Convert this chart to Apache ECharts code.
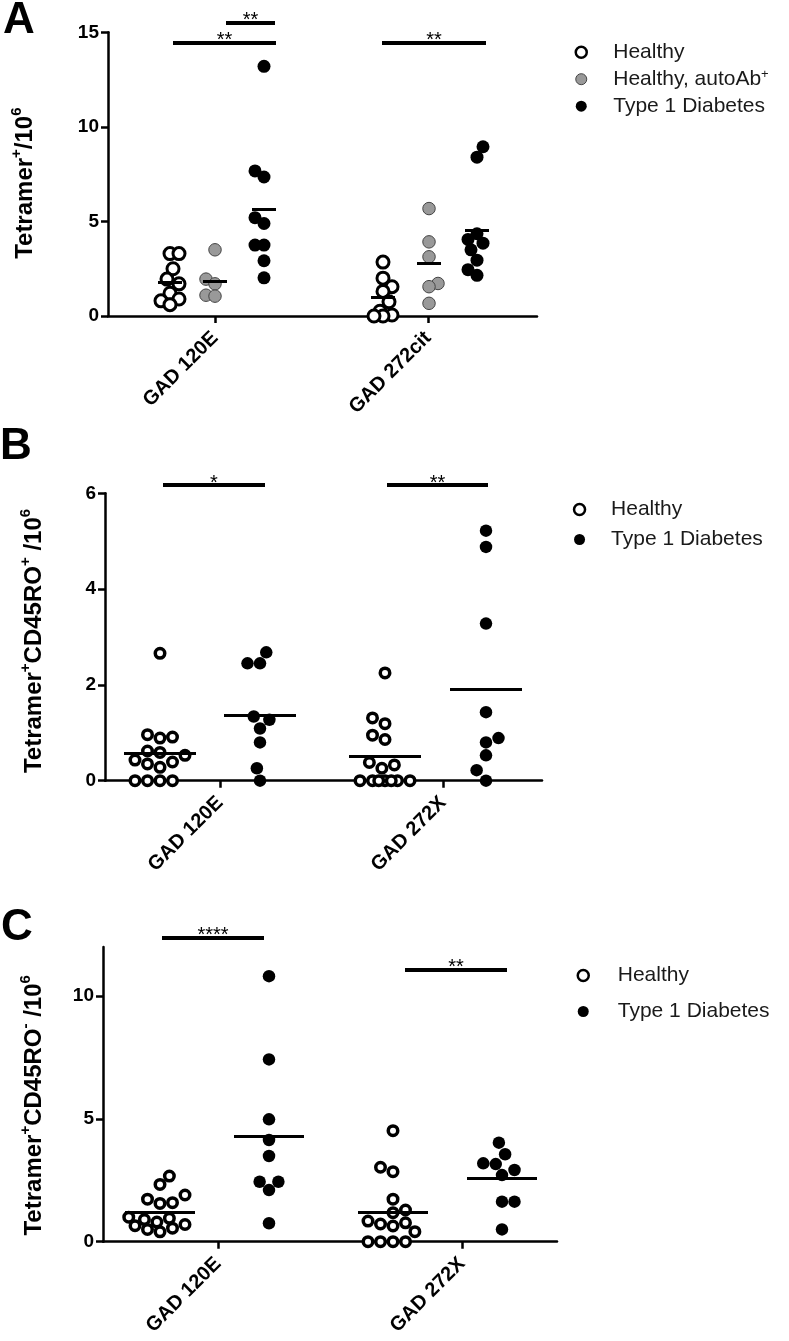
<!DOCTYPE html>
<html><head><meta charset="utf-8">
<script src="https://cdn.jsdelivr.net/npm/echarts@6/dist/echarts.min.js"></script>
<style>html,body{margin:0;padding:0;background:#fff}#c{width:789px;height:1341px}</style>
</head><body><div id="c"></div>
<script>
// ---------------- DATA ----------------
const categoriesA = ['GAD 120E', 'GAD 272cit'];
const categoriesB = ['GAD 120E', 'GAD 272X'];
const categoriesC = ['GAD 120E', 'GAD 272X'];

const seriesNamesA = ['Healthy', 'Healthy, autoAb+', 'Type 1 Diabetes'];
const seriesNamesBC = ['Healthy', 'Type 1 Diabetes'];

// Panel A: Tetramer+/10^6   [per category: values]
const healthyA = [[3.3, 3.3, 2.5, 1.95, 1.7, 1.2, 0.9, 0.8, 0.6], [2.85, 2.0, 1.55, 1.3, 0.75, 0.25, 0.05, 0, 0]];
const autoAbA  = [[3.5, 1.95, 1.7, 1.1, 1.05], [5.68, 3.92, 3.13, 1.72, 1.55, 0.67]];
const t1dA     = [[13.2, 7.67, 7.35, 5.2, 4.89, 3.75, 3.75, 2.92, 2.02], [8.95, 8.4, 4.35, 4.05, 3.85, 3.5, 2.95, 2.45, 2.15]];

// Panel B: Tetramer+CD45RO+/10^6
const healthyB = [[2.66, 0.96, 0.91, 0.89, 0.62, 0.59, 0.53, 0.43, 0.39, 0.35, 0.28, 0, 0, 0, 0],
                  [2.25, 1.31, 1.19, 0.95, 0.86, 0.38, 0.33, 0.26, 0, 0, 0, 0, 0, 0, 0]];
const t1dB     = [[2.68, 2.45, 2.45, 1.34, 1.27, 1.09, 0.80, 0.26, 0],
                  [5.22, 4.88, 3.28, 1.43, 0.89, 0.80, 0.53, 0.22, 0]];

// Panel C: Tetramer+CD45RO-/10^6
const healthyC = [[2.67, 2.33, 1.90, 1.73, 1.59, 1.56, 1.0, 0.95, 0.9, 0.8, 0.7, 0.65, 0.55, 0.5, 0.4],
                  [4.52, 3.03, 2.85, 1.73, 1.29, 1.18, 0.84, 0.77, 0.72, 0.64, 0.41, 0, 0, 0, 0]];
const t1dC     = [[10.81, 7.42, 4.98, 4.14, 3.49, 2.44, 2.44, 2.10, 0.75],
                  [4.03, 3.56, 3.19, 3.16, 2.92, 2.71, 1.63, 1.63, 0.50]];

// Y axis tick labels
const yTicksA = [0, 5, 10, 15];
const yTicksB = [0, 2, 4, 6];
const yTicksC = [0, 5, 10];
const yMaxA = 15, yMaxB = 6, yMaxC = 12;

// Significance annotations (category, text, level in axis units)
const sigCatA = [0, 0, 1], sigTextA = ['**', '**', '**'], sigLevelA = [14.46, 15.53, 14.46];
const sigCatB = [0, 1],    sigTextB = ['*', '**'],        sigLevelB = [6.17, 6.17];
const sigCatC = [0, 1],    sigTextC = ['****', '**'],     sigLevelC = [12.37, 11.09];

// ---------------- LAYOUT / STYLE ----------------
const FONT = "'Liberation Sans', Arial, Helvetica, sans-serif";
const openStyle  = {color: '#fff', borderColor: '#000'};
const grayStyle  = {color: '#999', borderColor: '#444'};
const blackStyle = {color: '#000', borderColor: '#000'};

const panels = [
  {
    letter: 'A', letterPos: [3, -1],
    axisX: 108, xEnd: 537, top: 32.3, bottom: 316, tick1: 215, tick2: 428,
    yMax: yMaxA, yTicks: yTicksA, categories: categoriesA,
    yName: '{b|Tetramer}{s|+}{b|/10}{s|6}', nameGap: 66, nameShift: 9,
    names: seriesNamesA, values: [healthyA, autoAbA, t1dA],
    markers: [
      Object.assign({size: 12, bw: 3}, openStyle),
      Object.assign({size: 12.5, bw: 1}, grayStyle),
      Object.assign({size: 13, bw: 0}, blackStyle)
    ],
    offsets: [[-45, 0, 49], [-45, 1, 49]], meanHalf: 12, swarmD: 12, maxHalf: 10,
    sigCat: sigCatA, sigText: sigTextA, sigLevel: sigLevelA,
    sigEnds: [[-42, 61], [11, 60], [-46, 58]],
    legend: {left: 574.5, top: 41.7, gap: 5, pad: 21.5}
  },
  {
    letter: 'B', letterPos: [0, 425],
    axisX: 105, xEnd: 542, top: 493.3, bottom: 780.7, tick1: 220, tick2: 443,
    yMax: yMaxB, yTicks: yTicksB, categories: categoriesB,
    yName: '{b|Tetramer}{s|+}{b|CD45RO}{s|+}{b| /10}{s|6}', nameGap: 54, nameShift: 4,
    names: seriesNamesBC, values: [healthyB, t1dB],
    markers: [
      Object.assign({size: 9.5, bw: 3.5}, openStyle),
      Object.assign({size: 12.5, bw: 0}, blackStyle)
    ],
    offsets: [[-60, 40], [-58, 43]], meanHalf: 36, swarmD: 12.5, maxHalf: 34,
    sigCat: sigCatB, sigText: sigTextB, sigLevel: sigLevelB,
    sigEnds: [[-57, 45], [-56, 45]],
    legend: {left: 572.8, top: 499, gap: 9, pad: 21}
  },
  {
    letter: 'C', letterPos: [1, 906],
    axisX: 103, xEnd: 557, top: 946.9, bottom: 1241.7, tick1: 218, tick2: 462,
    yMax: yMaxC, yTicks: yTicksC, categories: categoriesC,
    yName: '{b|Tetramer}{s|+}{b|CD45RO}{s|-}{b| /10}{s|6}', nameGap: 52, nameShift: 11,
    names: seriesNamesBC, values: [healthyC, t1dC],
    markers: [
      Object.assign({size: 9.5, bw: 3.5}, openStyle),
      Object.assign({size: 12.5, bw: 0}, blackStyle)
    ],
    offsets: [[-58, 51], [-69, 40]], meanHalf: 35, swarmD: 12.5, maxHalf: 34,
    sigCat: sigCatC, sigText: sigTextC, sigLevel: sigLevelC,
    sigEnds: [[-56, 46], [-57, 45]],
    legend: {left: 576.5, top: 965, gap: 15, pad: 24}
  }
];

// Beeswarm layout (pixel offsets) so points do not overlap
function swarm(vals, ppu, d, maxHalf) {
  const idx = vals.map((v, i) => i).sort((a, b) => vals[a] - vals[b]);
  const placed = [];
  const out = new Array(vals.length);
  const step = d / 4;
  const nMax = Math.floor(maxHalf / step);
  idx.forEach((i, n) => {
    const y = vals[i] * ppu;
    const pref = n % 2 ? -1 : 1;
    let best = null, fallback = 0, fallbackScore = -Infinity;
    for (let k = 0; k <= nMax && best === null; k++) {
      const cands = k === 0 ? [0] : [pref * k * step, -pref * k * step];
      for (const x of cands) {
        let minD = Infinity;
        placed.forEach(p => { const dd = Math.hypot(p.x - x, p.y - y); if (dd < minD) minD = dd; });
        if (minD >= d) { best = x; break; }
        if (minD > fallbackScore + 0.01) { fallbackScore = minD; fallback = x; }
      }
    }
    if (best === null) best = fallback;
    out[i] = best;
    placed.push({x: best, y: y});
  });
  return out;
}

function mean(a) { return a.reduce((s, v) => s + v, 0) / a.length; }

const option = {
  animation: false, backgroundColor: '#fff',
  title: [], grid: [], xAxis: [], yAxis: [], series: [], legend: []
};

panels.forEach(p => {
  const gi = option.grid.length;
  const H = p.bottom - p.top;
  const ppu = H / p.yMax;
  const s = p.tick2 - p.tick1;
  const EXTRA = Math.min(60, p.top - 2);

  option.title.push({
    text: p.letter, left: p.letterPos[0], top: p.letterPos[1], padding: 0,
    textStyle: {fontFamily: FONT, fontSize: 44, fontWeight: 'bold', color: '#000'}
  });

  option.grid.push({left: p.axisX, top: p.top, width: p.xEnd - p.axisX, height: H});
  option.grid.push({left: p.tick1 - s / 2, top: p.top - EXTRA, width: 2 * s, height: H + EXTRA});

  const xi = option.xAxis.length, yi = option.yAxis.length;
  // visible axes
  option.xAxis.push({
    type: 'value', gridIndex: gi, min: 0, max: 1, position: 'bottom',
    axisLine: {show: true, onZero: false, lineStyle: {color: '#000', width: 2.5}},
    axisTick: {show: false}, axisLabel: {show: false}, splitLine: {show: false}
  });
  option.yAxis.push({
    type: 'value', gridIndex: gi, min: 0, max: p.yMax,
    axisLine: {show: true, lineStyle: {color: '#000', width: 2.5}},
    axisTick: {show: true, length: 7, customValues: p.yTicks, lineStyle: {color: '#000', width: 2.5}},
    axisLabel: {customValues: p.yTicks, fontFamily: FONT, fontSize: 19, fontWeight: 'bold', color: '#000', margin: 9},
    splitLine: {show: false},
    name: p.yName, nameLocation: 'middle', nameGap: p.nameGap, nameRotate: 90,
    nameTextStyle: {
      padding: [0, 2 * p.nameShift, 0, 0],
      rich: {
        b: {fontFamily: FONT, fontSize: 24, fontWeight: 'bold', color: '#000'},
        s: {fontFamily: FONT, fontSize: 15, fontWeight: 'bold', color: '#000', padding: [0, 0, 18, 0]}
      }
    }
  });
  // category axis (ticks + labels)
  option.xAxis.push({
    type: 'category', gridIndex: gi + 1, data: p.categories, boundaryGap: true, position: 'bottom',
    axisLine: {show: false, onZero: false},
    axisTick: {show: true, alignWithLabel: true, length: 7, lineStyle: {color: '#000', width: 2.5}},
    axisLabel: {rotate: 45, interval: 0, fontFamily: FONT, fontSize: 20, fontWeight: 'bold', color: '#000', margin: 19},
    splitLine: {show: false}
  });
  // hidden value axes for placing marks
  option.xAxis.push({type: 'value', gridIndex: gi + 1, min: -0.5, max: 1.5, show: false, position: 'top'});
  option.yAxis.push({type: 'value', gridIndex: gi + 1, min: 0, max: p.yMax + EXTRA / ppu, show: false});
  const sx = xi + 2, sy = yi + 1;

  // scatter points
  const meanLines = [];
  p.names.forEach((name, g) => {
    const m = p.markers[g];
    const data = [];
    p.values[g].forEach((vals, cat) => {
      const offs = swarm(vals, ppu, p.swarmD, p.maxHalf);
      const cx = cat + p.offsets[cat][g] / s;
      vals.forEach((v, i) => data.push([cx + offs[i] / s, v]));
      const mv = mean(vals);
      meanLines.push({coords: [[cx - p.meanHalf / s, mv], [cx + p.meanHalf / s, mv]]});
    });
    option.series.push({
      type: 'scatter', name: name, xAxisIndex: sx, yAxisIndex: sy, data: data,
      symbol: 'circle', symbolSize: m.size, z: 2, silent: true, clip: false,
      itemStyle: {color: m.color, borderColor: m.borderColor, borderWidth: m.bw, opacity: 1}
    });
  });
  // mean lines
  option.series.push({
    type: 'lines', coordinateSystem: 'cartesian2d', xAxisIndex: sx, yAxisIndex: sy,
    data: meanLines, z: 4, silent: true,
    lineStyle: {color: '#000', width: 3, opacity: 1, cap: 'butt'}
  });
  // significance bars
  option.series.push({
    type: 'lines', coordinateSystem: 'cartesian2d', xAxisIndex: sx, yAxisIndex: sy, z: 4, silent: true,
    data: p.sigCat.map((cat, k) => ({
      name: p.sigText[k],
      coords: [[cat + p.sigEnds[k][0] / s, p.sigLevel[k]], [cat + p.sigEnds[k][1] / s, p.sigLevel[k]]]
    })),
    lineStyle: {color: '#000', width: 4, opacity: 1},
    label: {show: true, position: 'middle', formatter: '{b}', distance: -8,
            fontFamily: FONT, fontSize: 20, color: '#000'}
  });

  // legend
  const L = p.legend;
  option.legend.push({
    orient: 'vertical', left: L.left, top: L.top, itemGap: L.gap, padding: 0,
    itemWidth: 11, itemHeight: 11, selectedMode: false,
    data: p.names.map((name, g) => {
      const m = p.markers[g];
      return {name: name, icon: 'circle',
              itemStyle: {color: m.color, borderColor: m.borderColor, borderWidth: m.bw > 0 ? Math.min(m.bw, 2.5) : 0}};
    }),
    formatter: name => name.endsWith('+') ? '{t|' + name.slice(0, -1) + '}{s|+}' : '{t|' + name + '}',
    textStyle: {
      fontFamily: FONT, fontSize: 21, color: '#1a1a1a',
      rich: {
        t: {fontFamily: FONT, fontSize: 21, lineHeight: 20, color: '#1a1a1a', padding: [0, 0, 0, L.pad]},
        s: {fontFamily: FONT, fontSize: 13, lineHeight: 12, color: '#1a1a1a', padding: [0, 0, 10, 0]}
      }
    }
  });
});

const chart = echarts.init(document.getElementById('c'), null, {renderer: 'canvas', width: 789, height: 1341});
chart.setOption(option);
</script>
</body></html>
